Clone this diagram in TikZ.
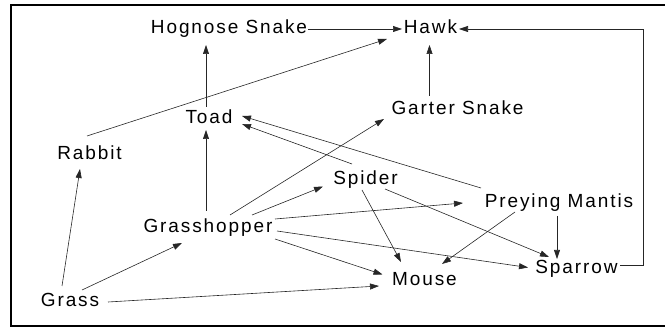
\documentclass[tikz,border=0pt]{standalone}
\usepackage{fontspec}
\setmainfont{Liberation Sans}[LetterSpace=10]
\usetikzlibrary{arrows.meta}
\begin{document}
\begin{tikzpicture}[x=1pt,y=-1pt,
  lbl/.style={inner sep=0pt, font=\fontsize{19}{22}\selectfont, text height=13.5pt, text depth=0pt},
  link/.style={line width=0.6pt, draw=black!85, -{Triangle[length=9pt,width=6pt]}},
  plain/.style={line width=0.6pt, draw=black!85}]
\useasboundingbox (0,0) rectangle (665,328);
\draw[line width=2pt] (668,5) -- (11,5) -- (11,326) -- (668,326);
% nodes
\node[lbl] (hognose) at (229,26.5) {Hognose Snake};
\node[lbl] (hawk) at (430.5,26.5) {Hawk};
\node[lbl] (toad) at (209,116.5) {Toad};
\node[lbl] (rabbit) at (89.5,152.5) {Rabbit};
\node[lbl] (garter) at (457.5,107.5) {Garter Snake};
\node[lbl] (spider) at (365.5,177.5) {Spider};
\node[lbl] (mantis) at (559,200.5) {Preying Mantis};
\node[lbl] (grasshopper) at (208,225.5) {Grasshopper};
\node[lbl] (sparrow) at (576.5,266.5) {Sparrow};
\node[lbl] (mouse) at (424.5,278.5) {Mouse};
\node[lbl] (grass) at (70,299.5) {Grass};
% connectors
\draw[link] ([shift={(79,2.5)}]hognose.center) -- ([shift={(-28.5,2.5)}]hawk.center);
\draw[link] ([shift={(-3,-9.5)}]toad.center) -- ([shift={(-23,18.5)}]hognose.center);
\draw[link] ([shift={(-2.5,-16.5)}]rabbit.center) -- ([shift={(-43.5,12.5)}]hawk.center);
\draw[link] ([shift={(-28,-11.5)}]garter.center) -- ([shift={(-1,18.5)}]hawk.center);
\draw[link] ([shift={(-2,-14.5)}]grasshopper.center) -- ([shift={(-3,13.5)}]toad.center);
\draw[link] ([shift={(-13.5,-13.5)}]spider.center) -- ([shift={(33,7.5)}]toad.center);
\draw[link] ([shift={(-78,-12.5)}]mantis.center) -- ([shift={(33,-0.5)}]toad.center);
\draw[link] ([shift={(22,-10.5)}]grasshopper.center) -- ([shift={(-73.5,11.5)}]garter.center);
\draw[link] ([shift={(44,-10.5)}]grasshopper.center) -- ([shift={(-42.5,9)}]spider.center);
\draw[link] ([shift={(67,-6.5)}]grasshopper.center) -- ([shift={(-96,2.5)}]mantis.center);
\draw[link] ([shift={(69,5.5)}]grasshopper.center) -- ([shift={(-48.5,1)}]sparrow.center);
\draw[link] ([shift={(67,13.5)}]grasshopper.center) -- ([shift={(-42,-4)}]mouse.center);
\draw[link] ([shift={(-8,-13.5)}]grass.center) -- ([shift={(-9.5,16.5)}]rabbit.center);
\draw[link] ([shift={(12,-9.5)}]grass.center) -- ([shift={(-26,17.5)}]grasshopper.center);
\draw[link] ([shift={(38,2.5)}]grass.center) -- ([shift={(-45.5,7.5)}]mouse.center);
\draw[link] ([shift={(-3.5,12.5)}]spider.center) -- ([shift={(-23.5,-16.5)}]mouse.center);
\draw[link] ([shift={(19.5,11.5)}]spider.center) -- ([shift={(-27.5,-9.5)}]sparrow.center);
\draw[link] ([shift={(-44,11.5)}]mantis.center) -- ([shift={(17.5,-14.5)}]mouse.center);
\draw[link] ([shift={(-2,15.5)}]mantis.center) -- ([shift={(-19.5,-7.5)}]sparrow.center);
\draw[plain,-{Triangle[length=9pt,width=6pt]}] ([shift={(43.5,-1.5)}]sparrow.center) -- ++(23,0) |- ([shift={(28.5,2.5)}]hawk.center);
\end{tikzpicture}
\end{document}
